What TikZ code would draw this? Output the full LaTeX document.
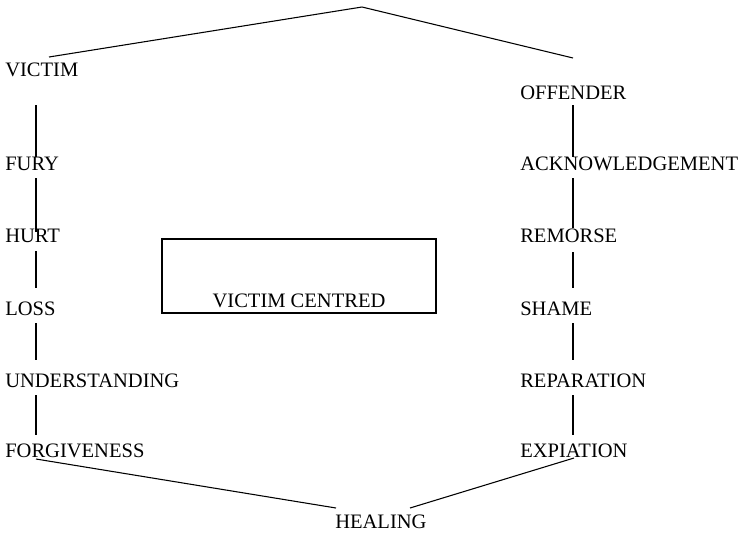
\documentclass[tikz,border=0pt]{standalone}
\usepackage{fontspec}
\setmainfont{Liberation Serif}
\usetikzlibrary{calc}
\begin{document}
\begin{tikzpicture}[x=0.75pt,y=-0.75pt,
  term/.style={anchor=base west,inner sep=0pt,font=\fontsize{15.4}{18}\selectfont},
  link/.style={line width=0.8pt,black}]
\useasboundingbox (0,0) rectangle (741,532);

% left column
\node[term] (victim) at (5,76) {VICTIM};
\node[term] (fury) at (5,170) {FURY};
\node[term] (hurt) at (5,242) {HURT};
\node[term] (loss) at (5,315) {LOSS};
\node[term] (underst) at (5,387) {UNDERSTANDING};
\node[term] (forgive) at (5,457) {FORGIVENESS};

% right column
\node[term] (offender) at (520,99) {OFFENDER};
\node[term] (acknow) at (520,170) {ACKNOWLEDGEMENT};
\node[term] (remorse) at (520,242) {REMORSE};
\node[term] (shame) at (520,315) {SHAME};
\node[term] (repar) at (520,387) {REPARATION};
\node[term] (expia) at (520,457) {EXPIATION};

% bottom
\node[term] (healing) at (335,528) {HEALING};

% centre box
\node[draw,line width=1pt,minimum width=205.5pt,minimum height=55.5pt,inner sep=0pt] (vcbox) at (299,276) {};
\node[term,anchor=base] (vctext) at (299,307) {VICTIM CENTRED};

\coordinate (apex) at (362,7);

% top roof
\draw[link] ($(victim.base west)+(44,-19)$) -- (apex) -- ($(offender.base west)+(53,-41)$);

% left chain
\draw[link] ($(victim.base west)+(31,29)$) -- ($(fury.base west)+(31,-13)$);
\draw[link] ($(fury.base west)+(31,8)$) -- ($(hurt.base west)+(31,-10)$);
\draw[link] ($(hurt.base west)+(31,9)$) -- ($(loss.base west)+(31,-27)$);
\draw[link] ($(loss.base west)+(31,8)$) -- ($(underst.base west)+(31,-27)$);
\draw[link] ($(underst.base west)+(31,8)$) -- ($(forgive.base west)+(31,-22)$);

% right chain
\draw[link] ($(offender.base west)+(53,6)$) -- ($(acknow.base west)+(53,-13)$);
\draw[link] ($(acknow.base west)+(53,8)$) -- ($(remorse.base west)+(53,-14)$);
\draw[link] ($(remorse.base west)+(53,10)$) -- ($(shame.base west)+(53,-27)$);
\draw[link] ($(shame.base west)+(53,8)$) -- ($(repar.base west)+(53,-27)$);
\draw[link] ($(repar.base west)+(53,8)$) -- ($(expia.base west)+(53,-22)$);

% bottom joins
\draw[link] ($(forgive.base west)+(31,2)$) -- ($(healing.base west)+(1,-20)$);
\draw[link] ($(expia.base west)+(54,1)$) -- ($(healing.base west)+(75,-20)$);
\end{tikzpicture}
\end{document}
